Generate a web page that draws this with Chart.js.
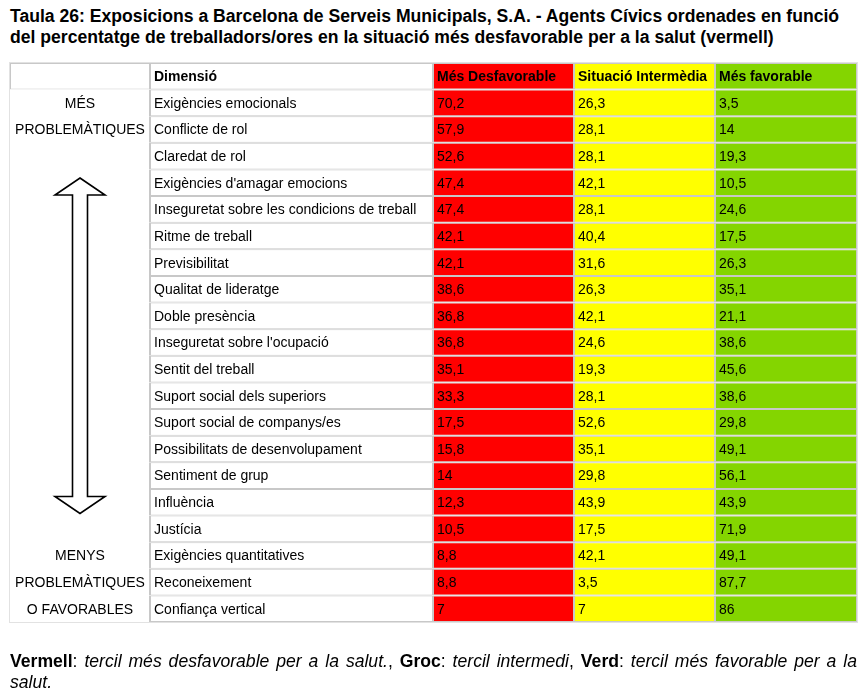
<!DOCTYPE html>
<html>
<head>
<meta charset="utf-8">
<script src="https://cdn.jsdelivr.net/npm/chart.js"></script>
<style>
  html, body { margin: 0; padding: 0; background: #fff; }
  body { width: 868px; height: 696px; position: relative; overflow: hidden;
         font-family: "Liberation Sans", Arial, Helvetica, sans-serif; color: #000; }
  #title { position: absolute; left: 10px; top: 6px; width: 852px;
           font-weight: bold; font-size: 17.6px; line-height: 21px; }
  #note { position: absolute; left: 10px; top: 651px; width: 847px;
          font-size: 17.6px; line-height: 21px; text-align: justify; }
  #note i { font-style: italic; }
  canvas { position: absolute; left: 0; top: 0; }
</style>
</head>
<body>
<div id="title">Taula 26: Exposicions a Barcelona de Serveis Municipals, S.A. - Agents Cívics ordenades en funció del percentatge de treballadors/ores en la situació més desfavorable per a la salut (vermell)</div>
<canvas id="table" width="868" height="696"></canvas>
<div id="note"><b>Vermell</b>: <i>tercil més desfavorable per a la salut.</i>, <b>Groc</b>: <i>tercil intermedi</i>, <b>Verd</b>: <i>tercil més favorable per a la salut.</i></div>

<script>
// Table data
const columnHeaders = ['', 'Dimensió', 'Més Desfavorable', 'Situació Intermèdia', 'Més favorable'];

const dimensions = [
  'Exigències emocionals', 'Conflicte de rol', 'Claredat de rol',
  "Exigències d'amagar emocions", 'Inseguretat sobre les condicions de treball',
  'Ritme de treball', 'Previsibilitat', 'Qualitat de lideratge', 'Doble presència',
  "Inseguretat sobre l'ocupació", 'Sentit del treball', 'Suport social dels superiors',
  'Suport social de companys/es', 'Possibilitats de desenvolupament', 'Sentiment de grup',
  'Influència', 'Justícia', 'Exigències quantitatives', 'Reconeixement', 'Confiança vertical'
];

const desfavorable = [70.2, 57.9, 52.6, 47.4, 47.4, 42.1, 42.1, 38.6, 36.8, 36.8,
                      35.1, 33.3, 17.5, 15.8, 14, 12.3, 10.5, 8.8, 8.8, 7];
const intermedia   = [26.3, 28.1, 28.1, 42.1, 28.1, 40.4, 31.6, 26.3, 42.1, 24.6,
                      19.3, 28.1, 52.6, 35.1, 29.8, 43.9, 17.5, 42.1, 3.5, 7];
const favorable    = [3.5, 14, 19.3, 10.5, 24.6, 17.5, 26.3, 35.1, 21.1, 38.6,
                      45.6, 38.6, 29.8, 49.1, 56.1, 43.9, 71.9, 49.1, 87.7, 86];

const topLabels = ['MÉS', 'PROBLEMÀTIQUES'];
const bottomLabels = ['MENYS', 'PROBLEMÀTIQUES', 'O FAVORABLES'];

// Layout
const colEdges = [0, 140, 423, 564, 705, 847];
const colColors = ['#ffffff', '#ffffff', '#ff0000', '#ffff00', '#84d500'];
const lineColor = '#c8c8c8';
const FONT = '"Liberation Sans", Arial, Helvetica, sans-serif';

const rowLabels = ['header'].concat(dimensions);
const valueCols = [null, null, desfavorable, intermedia, favorable];

function fmt(v) {
  return String(v).replace('.', ',');
}

function cellText(col, row) {
  if (row === 0) return columnHeaders[col];
  if (col === 1) return dimensions[row - 1];
  if (col >= 2) return fmt(valueCols[col][row - 1]);
  return '';
}

const datasets = colColors.map((color, k) => ({
  label: columnHeaders[k] || 'side',
  data: rowLabels.map(() => [colEdges[k], colEdges[k + 1]]),
  backgroundColor: color,
  borderColor: lineColor,
  borderWidth: rowLabels.map((r, i) =>
    (k === 0 && i > 0) ? { left: 0, top: 0, bottom: 0, right: 1 } : 1),
  borderSkipped: false,
  inflateAmount: 0,
  grouped: false,
  barPercentage: 1,
  categoryPercentage: 1
}));

// Draws cell texts, side labels, the double arrow and the outer frame
const tablePlugin = {
  id: 'tableText',
  afterDatasetsDraw(chart) {
    const ctx = chart.ctx;
    const area = chart.chartArea;
    const yScale = chart.scales.y;
    const xScale = chart.scales.x;
    const rowH = (area.bottom - area.top) / rowLabels.length;

    ctx.save();
    ctx.fillStyle = '#000';
    ctx.textBaseline = 'middle';
    ctx.textAlign = 'left';

    chart.data.datasets.forEach((ds, k) => {
      const meta = chart.getDatasetMeta(k);
      meta.data.forEach((bar, i) => {
        const txt = cellText(k, i);
        if (!txt) return;
        const left = Math.min(bar.x, bar.base);
        ctx.font = (i === 0 ? 'bold ' : '') + '14px ' + FONT;
        ctx.fillText(txt, left + 4, bar.y + 1);
      });
    });

    // side labels in first column
    const cx = xScale.getPixelForValue((colEdges[0] + colEdges[1]) / 2);
    ctx.textAlign = 'center';
    ctx.font = '14px ' + FONT;
    topLabels.forEach((t, i) => {
      ctx.fillText(t, cx, yScale.getPixelForValue(i + 1) + 1);
    });
    bottomLabels.forEach((t, i) => {
      const row = rowLabels.length - bottomLabels.length + i;
      ctx.fillText(t, cx, yScale.getPixelForValue(row) + 1);
    });

    // double-headed hollow arrow
    const yTop = yScale.getPixelForValue(4) - rowH / 2 + 8.5;
    const yBot = yScale.getPixelForValue(16) + rowH / 2 - 2;
    const headH = 17, headW = 25, shaftW = 7.5;
    ctx.beginPath();
    ctx.moveTo(cx, yTop);
    ctx.lineTo(cx + headW, yTop + headH);
    ctx.lineTo(cx + shaftW, yTop + headH);
    ctx.lineTo(cx + shaftW, yBot - headH);
    ctx.lineTo(cx + headW, yBot - headH);
    ctx.lineTo(cx, yBot);
    ctx.lineTo(cx - headW, yBot - headH);
    ctx.lineTo(cx - shaftW, yBot - headH);
    ctx.lineTo(cx - shaftW, yTop + headH);
    ctx.lineTo(cx - headW, yTop + headH);
    ctx.closePath();
    ctx.lineWidth = 1.6;
    ctx.strokeStyle = '#000';
    ctx.stroke();

    // outer frame
    ctx.strokeStyle = '#e2e2e2';
    ctx.lineWidth = 1;
    ctx.strokeRect(area.left - 0.5, area.top - 0.5, area.right - area.left + 1, area.bottom - area.top + 1);
    ctx.restore();
  }
};

new Chart(document.getElementById('table'), {
  type: 'bar',
  data: { labels: rowLabels, datasets: datasets },
  options: {
    indexAxis: 'y',
    responsive: false,
    animation: false,
    layout: { padding: { left: 10, top: 63, right: 11, bottom: 74 } },
    scales: {
      x: { type: 'linear', min: colEdges[0], max: colEdges[colEdges.length - 1], display: false },
      y: { type: 'category', display: false, offset: true }
    },
    plugins: {
      legend: { display: false },
      tooltip: { enabled: false }
    }
  },
  plugins: [tablePlugin]
});
</script>
</body>
</html>
